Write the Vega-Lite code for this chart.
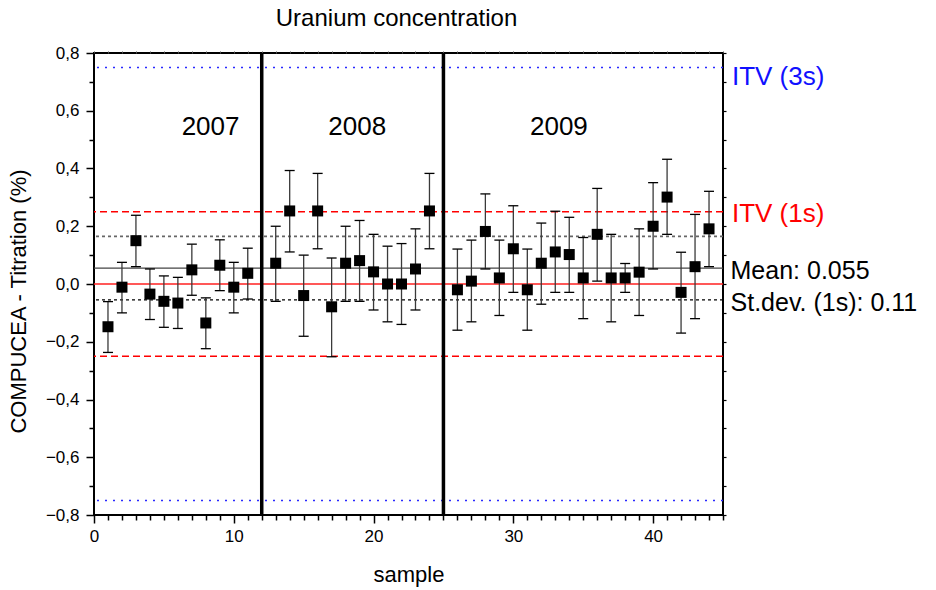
{
  "$schema": "https://vega.github.io/schema/vega-lite/v6.json",
  "width": 629,
  "height": 462,
  "autosize": "none",
  "padding": {"left": 94, "top": 53, "right": 213, "bottom": 75},
  "background": "white",
  "config": {
    "font": "Liberation Sans",
    "view": {"stroke": "black", "strokeWidth": 2},
    "axis": {"domain": false, "grid": false, "tickColor": "black", "labelColor": "black", "titleColor": "black", "labelFont": "Liberation Sans", "titleFont": "Liberation Sans", "titleFontWeight": "normal"}
  },
  "title": {"text": "Uranium concentration", "fontSize": 24, "fontWeight": "normal", "color": "black", "anchor": "middle", "dx": -12, "offset": 13, "font": "Liberation Sans"},
  "datasets": {
    "points": [
      {"sample": 1, "value": -0.148, "lo": -0.237, "hi": -0.061},
      {"sample": 2, "value": -0.011, "lo": -0.1, "hi": 0.075},
      {"sample": 3, "value": 0.15, "lo": 0.06, "hi": 0.238},
      {"sample": 4, "value": -0.035, "lo": -0.123, "hi": 0.052},
      {"sample": 5, "value": -0.06, "lo": -0.15, "hi": 0.028},
      {"sample": 6, "value": -0.066, "lo": -0.154, "hi": 0.023},
      {"sample": 7, "value": 0.049, "lo": -0.039, "hi": 0.138},
      {"sample": 8, "value": -0.135, "lo": -0.224, "hi": -0.048},
      {"sample": 9, "value": 0.065, "lo": -0.023, "hi": 0.153},
      {"sample": 10, "value": -0.011, "lo": -0.1, "hi": 0.075},
      {"sample": 11, "value": 0.037, "lo": -0.052, "hi": 0.124},
      {"sample": 13, "value": 0.072, "lo": -0.06, "hi": 0.2},
      {"sample": 14, "value": 0.253, "lo": 0.111, "hi": 0.393},
      {"sample": 15, "value": -0.04, "lo": -0.181, "hi": 0.1},
      {"sample": 16, "value": 0.253, "lo": 0.122, "hi": 0.383},
      {"sample": 17, "value": -0.079, "lo": -0.252, "hi": 0.09},
      {"sample": 18, "value": 0.072, "lo": -0.06, "hi": 0.2},
      {"sample": 19, "value": 0.081, "lo": -0.06, "hi": 0.22},
      {"sample": 20, "value": 0.042, "lo": -0.09, "hi": 0.172},
      {"sample": 21, "value": 0.0, "lo": -0.131, "hi": 0.131},
      {"sample": 22, "value": 0.0, "lo": -0.14, "hi": 0.14},
      {"sample": 23, "value": 0.052, "lo": -0.09, "hi": 0.191},
      {"sample": 24, "value": 0.253, "lo": 0.122, "hi": 0.383},
      {"sample": 26, "value": -0.02, "lo": -0.16, "hi": 0.121},
      {"sample": 27, "value": 0.01, "lo": -0.131, "hi": 0.152},
      {"sample": 28, "value": 0.182, "lo": 0.052, "hi": 0.312},
      {"sample": 29, "value": 0.021, "lo": -0.109, "hi": 0.152},
      {"sample": 30, "value": 0.122, "lo": -0.029, "hi": 0.271},
      {"sample": 31, "value": -0.02, "lo": -0.16, "hi": 0.121},
      {"sample": 32, "value": 0.072, "lo": -0.07, "hi": 0.211},
      {"sample": 33, "value": 0.111, "lo": -0.029, "hi": 0.252},
      {"sample": 34, "value": 0.102, "lo": -0.029, "hi": 0.231},
      {"sample": 35, "value": 0.021, "lo": -0.12, "hi": 0.161},
      {"sample": 36, "value": 0.172, "lo": 0.01, "hi": 0.331},
      {"sample": 37, "value": 0.021, "lo": -0.131, "hi": 0.172},
      {"sample": 38, "value": 0.021, "lo": -0.029, "hi": 0.071},
      {"sample": 39, "value": 0.041, "lo": -0.109, "hi": 0.191},
      {"sample": 40, "value": 0.2, "lo": 0.052, "hi": 0.351},
      {"sample": 41, "value": 0.301, "lo": 0.172, "hi": 0.432},
      {"sample": 42, "value": -0.029, "lo": -0.17, "hi": 0.11},
      {"sample": 43, "value": 0.06, "lo": -0.12, "hi": 0.241},
      {"sample": 44, "value": 0.191, "lo": 0.06, "hi": 0.321}
    ],
    "itv3": [{"level": 0.75}, {"level": -0.75}],
    "itv1": [{"level": 0.25}, {"level": -0.25}],
    "zero": [{"level": 0}],
    "mean": [{"level": 0.055}],
    "sdhi": [{"level": 0.165}],
    "sdlo": [{"level": -0.055}],
    "years": [{"sample": 12}, {"sample": 25}],
    "yearlabels": [
      {"x": 6.27, "y": 0.516, "text": "2007"},
      {"x": 16.76, "y": 0.516, "text": "2008"},
      {"x": 31.19, "y": 0.516, "text": "2009"}
    ],
    "itvlabels": [
      {"x": 45.64, "y": 0.689, "text": "ITV (3s)", "group": "3s"},
      {"x": 45.64, "y": 0.213, "text": "ITV (1s)", "group": "1s"}
    ],
    "statlabels": [
      {"x": 45.54, "y": 0.017, "text": "Mean: 0.055"},
      {"x": 45.54, "y": -0.092, "text": "St.dev. (1s): 0.11"}
    ]
  },
  "layer": [
    {
      "data": {"name": "itv3"},
      "mark": {"type": "rule", "color": "#2a2aff", "strokeWidth": 1.5, "strokeDash": [2, 6]},
      "encoding": {"y": {"field": "level", "type": "quantitative", "scale": {"domain": [-0.8, 0.8], "nice": false}, "axis": {"orient": "right", "values": [-0.8, -0.7, -0.6, -0.5, -0.4, -0.3, -0.2, -0.1, 0, 0.1, 0.2, 0.3, 0.4, 0.5, 0.6, 0.7, 0.8], "labels": false, "tickSize": 3, "tickWidth": 1.2, "title": null}}}
    },
    {
      "data": {"name": "itv1"},
      "mark": {"type": "rule", "color": "#ff0000", "strokeWidth": 1.5, "strokeDash": [7, 4]},
      "encoding": {"y": {"field": "level", "type": "quantitative", "axis": null}}
    },
    {
      "data": {"name": "zero"},
      "mark": {"type": "rule", "color": "#ff2020", "strokeWidth": 1.3},
      "encoding": {"y": {"field": "level", "type": "quantitative", "axis": null}}
    },
    {
      "data": {"name": "mean"},
      "mark": {"type": "rule", "color": "#444444", "strokeWidth": 1.3},
      "encoding": {"y": {"field": "level", "type": "quantitative", "axis": null}}
    },
    {
      "data": {"name": "sdhi"},
      "mark": {"type": "rule", "color": "#666666", "strokeWidth": 1.6, "strokeDash": [3, 3]},
      "encoding": {"y": {"field": "level", "type": "quantitative", "axis": null}}
    },
    {
      "data": {"name": "sdlo"},
      "mark": {"type": "rule", "color": "#000000", "strokeWidth": 1.1, "strokeDash": [3, 3]},
      "encoding": {"y": {"field": "level", "type": "quantitative", "axis": null}}
    },
    {
      "data": {"name": "years"},
      "mark": {"type": "rule", "color": "black", "strokeWidth": 3.5},
      "encoding": {"x": {"field": "sample", "type": "quantitative", "scale": {"domain": [0, 45], "nice": false, "zero": false}, "axis": {"orient": "top", "values": [0, 1, 2, 3, 4, 5, 6, 7, 8, 9, 10, 11, 12, 13, 14, 15, 16, 17, 18, 19, 20, 21, 22, 23, 24, 25, 26, 27, 28, 29, 30, 31, 32, 33, 34, 35, 36, 37, 38, 39, 40, 41, 42, 43, 44, 45], "labels": false, "tickSize": 2, "tickWidth": 1, "tickColor": "#555555", "title": null}}}
    },
    {
      "data": {"name": "points"},
      "mark": {"type": "rule", "color": "#3a3a3a", "strokeWidth": 1.3},
      "encoding": {
        "x": {"field": "sample", "type": "quantitative", "axis": null},
        "y": {"field": "lo", "type": "quantitative", "axis": null},
        "y2": {"field": "hi"}
      }
    },
    {
      "data": {"name": "points"},
      "mark": {"type": "tick", "orient": "horizontal", "color": "black", "size": 10, "thickness": 1.3, "opacity": 1},
      "encoding": {
        "x": {"field": "sample", "type": "quantitative", "axis": null},
        "y": {"field": "lo", "type": "quantitative", "axis": null}
      }
    },
    {
      "data": {"name": "points"},
      "mark": {"type": "tick", "orient": "horizontal", "color": "black", "size": 10, "thickness": 1.3, "opacity": 1},
      "encoding": {
        "x": {"field": "sample", "type": "quantitative", "axis": null},
        "y": {"field": "hi", "type": "quantitative", "axis": null}
      }
    },
    {
      "data": {"name": "points"},
      "mark": {"type": "point", "shape": "square", "filled": true, "color": "black", "size": 121, "opacity": 1},
      "encoding": {
        "x": {"field": "sample", "type": "quantitative", "title": "sample",
          "axis": {"orient": "bottom", "values": [0, 1, 2, 3, 4, 5, 6, 7, 8, 9, 10, 11, 12, 13, 14, 15, 16, 17, 18, 19, 20, 21, 22, 23, 24, 25, 26, 27, 28, 29, 30, 31, 32, 33, 34, 35, 36, 37, 38, 39, 40, 41, 42, 43, 44, 45],
            "labelExpr": "datum.value % 10 === 0 ? datum.label : ''", "labelFlush": false, "labelOverlap": false, "labelFontSize": 17, "labelPadding": 5,
            "tickSize": {"condition": {"test": "datum.value % 10 === 0", "value": 8}, "value": 5}, "tickWidth": 1.5,
            "titleFontSize": 22, "titlePadding": 20}},
        "y": {"field": "value", "type": "quantitative", "title": "COMPUCEA - Titration (%)",
          "axis": {"orient": "left", "values": [-0.8, -0.7, -0.6, -0.5, -0.4, -0.3, -0.2, -0.1, 0, 0.1, 0.2, 0.3, 0.4, 0.5, 0.6, 0.7, 0.8],
            "labelExpr": "round(datum.value * 10) % 2 === 0 ? replace(format(datum.value, '.1f'), '.', ',') : ''", "labelOverlap": false, "labelFlush": false, "labelFontSize": 17, "labelPadding": 7,
            "tickSize": {"condition": {"test": "round(datum.value * 10) % 2 === 0", "value": 8}, "value": 5}, "tickWidth": 1.5,
            "titleFontSize": 22, "titleAngle": -90, "titleX": -76, "titleY": 248, "titleAlign": "center", "titleBaseline": "middle"}}
      }
    },
    {
      "data": {"name": "yearlabels"},
      "mark": {"type": "text", "align": "left", "baseline": "alphabetic", "fontSize": 26, "color": "black"},
      "encoding": {
        "x": {"field": "x", "type": "quantitative", "axis": null},
        "y": {"field": "y", "type": "quantitative", "axis": null},
        "text": {"field": "text"}
      }
    },
    {
      "data": {"name": "itvlabels"},
      "mark": {"type": "text", "align": "left", "baseline": "alphabetic", "fontSize": 26},
      "encoding": {
        "x": {"field": "x", "type": "quantitative", "axis": null},
        "y": {"field": "y", "type": "quantitative", "axis": null},
        "text": {"field": "text"},
        "color": {"field": "group", "type": "nominal", "scale": {"domain": ["3s", "1s"], "range": ["#1010ff", "#ff0000"]}, "legend": null}
      }
    },
    {
      "data": {"name": "statlabels"},
      "mark": {"type": "text", "align": "left", "baseline": "alphabetic", "fontSize": 25, "color": "black"},
      "encoding": {
        "x": {"field": "x", "type": "quantitative", "axis": null},
        "y": {"field": "y", "type": "quantitative", "axis": null},
        "text": {"field": "text"}
      }
    }
  ],
  "resolve": {"axis": {"x": "independent", "y": "independent"}}
}
